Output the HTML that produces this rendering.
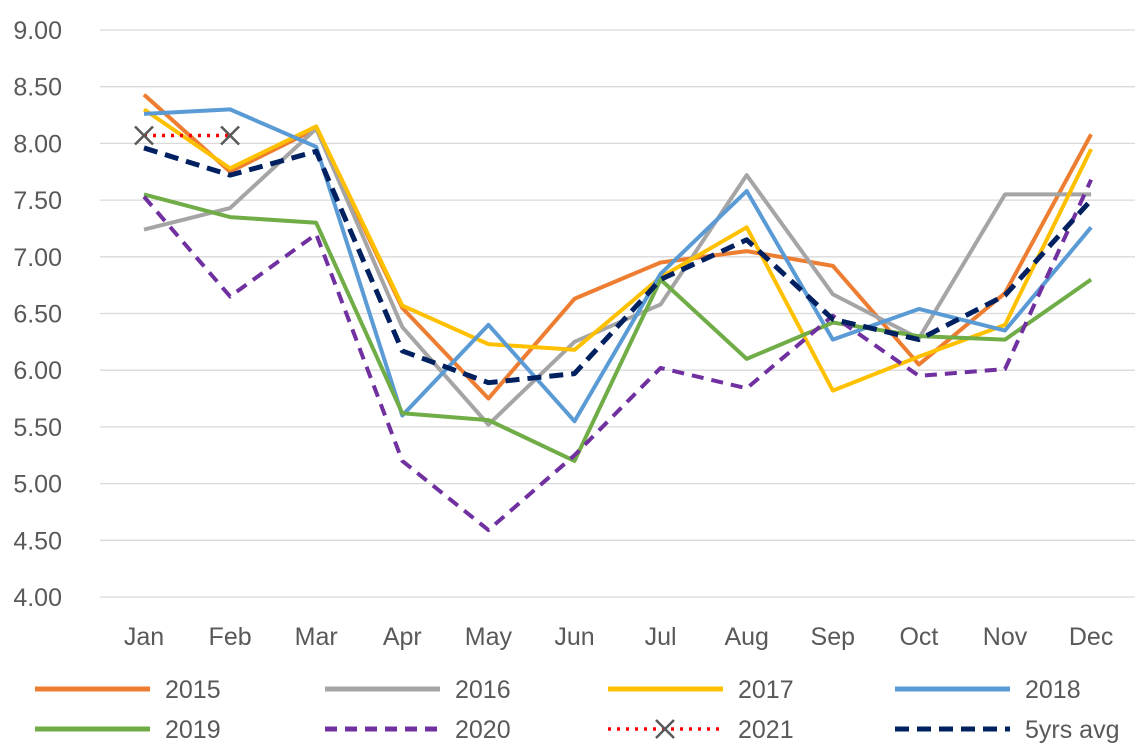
<!DOCTYPE html>
<html><head><meta charset="utf-8"><style>
body{margin:0;background:#fff;}
svg text{font-family:"Liberation Sans",Calibri,sans-serif;fill:#595959;font-size:25px;}
</style></head><body>
<svg id="c" width="1147" height="750" viewBox="0 0 1147 750" xmlns="http://www.w3.org/2000/svg"></svg>
<script>
const s=document.getElementById('c');
const Y=v=>30+(9-v)*113.4, X=i=>144+i*86.1;
let h='';
for(let k=0;k<=10;k++){const v=9-k*0.5,y=Y(v);
 h+=`<line x1="100" x2="1135" y1="${y}" y2="${y}" stroke="#d9d9d9" stroke-width="1.3"/>`;
 h+=`<text x="62" y="${y+9}" text-anchor="end">${v.toFixed(2)}</text>`;}
const m=['Jan','Feb','Mar','Apr','May','Jun','Jul','Aug','Sep','Oct','Nov','Dec'];
m.forEach((t,i)=>h+=`<text x="${X(i)}" y="645" text-anchor="middle">${t}</text>`);
const S=[
['#ed7d31','',[8.43,7.75,8.13,6.55,5.75,6.63,6.95,7.05,6.92,6.05,6.68,8.08]],
['#a5a5a5','',[7.24,7.43,8.13,6.38,5.52,6.25,6.58,7.72,6.67,6.28,7.55,7.55]],
['#ffc000','',[8.3,7.78,8.15,6.57,6.23,6.18,6.82,7.26,5.82,6.12,6.4,7.95]],
['#5b9bd5','',[8.26,8.3,7.97,5.6,6.4,5.55,6.85,7.58,6.27,6.54,6.35,7.26]],
['#70ad47','',[7.55,7.35,7.3,5.62,5.56,5.2,6.8,6.1,6.42,6.3,6.27,6.8]],
['#7030a0','12,8',[7.53,6.65,7.2,5.2,4.59,5.25,6.02,5.84,6.48,5.95,6.01,7.68]],
['#ff0000','3,6',[8.07,8.07]],
['#002060','14,8',[7.96,7.72,7.93,6.17,5.89,5.97,6.8,7.15,6.45,6.27,6.66,7.5]]];
S.forEach(([c,d,a],j)=>{
 const w=j==7?5:(j==6?3.5:4);
 h+=`<polyline fill="none" stroke="${c}" stroke-width="${w}" stroke-linejoin="round" ${d?`stroke-dasharray="${d}"`:''} points="${a.map((v,i)=>X(i)+','+Y(v)).join(' ')}"/>`;
 if(j==6)a.forEach((v,i)=>{const x=X(i),y=Y(v);h+=`<path d="M${x-9} ${y-9}L${x+9} ${y+9}M${x+9} ${y-9}L${x-9} ${y+9}" stroke="#595959" stroke-width="2.5"/>`;});
});
const L=[['2015',35,689],['2016',325,689],['2017',608,689],['2018',895,689],['2019',35,729],['2020',325,729],['2021',608,729],['5yrs avg',895,729]];
L.forEach(([t,x,y],j)=>{const [c,d]=S[j];const w=j==7?5:(j==6?3.5:5);
 h+=`<line x1="${x}" x2="${x+115}" y1="${y}" y2="${y}" stroke="${c}" stroke-width="${w}" ${d?`stroke-dasharray="${d}"`:''}/>`;
 if(j==6){const cx=x+57;h+=`<path d="M${cx-9} ${y-9}L${cx+9} ${y+9}M${cx+9} ${y-9}L${cx-9} ${y+9}" stroke="#595959" stroke-width="2.5"/>`;}
 h+=`<text x="${x+130}" y="${y+9}">${t}</text>`;});
s.innerHTML=h;
</script>
</body></html>
